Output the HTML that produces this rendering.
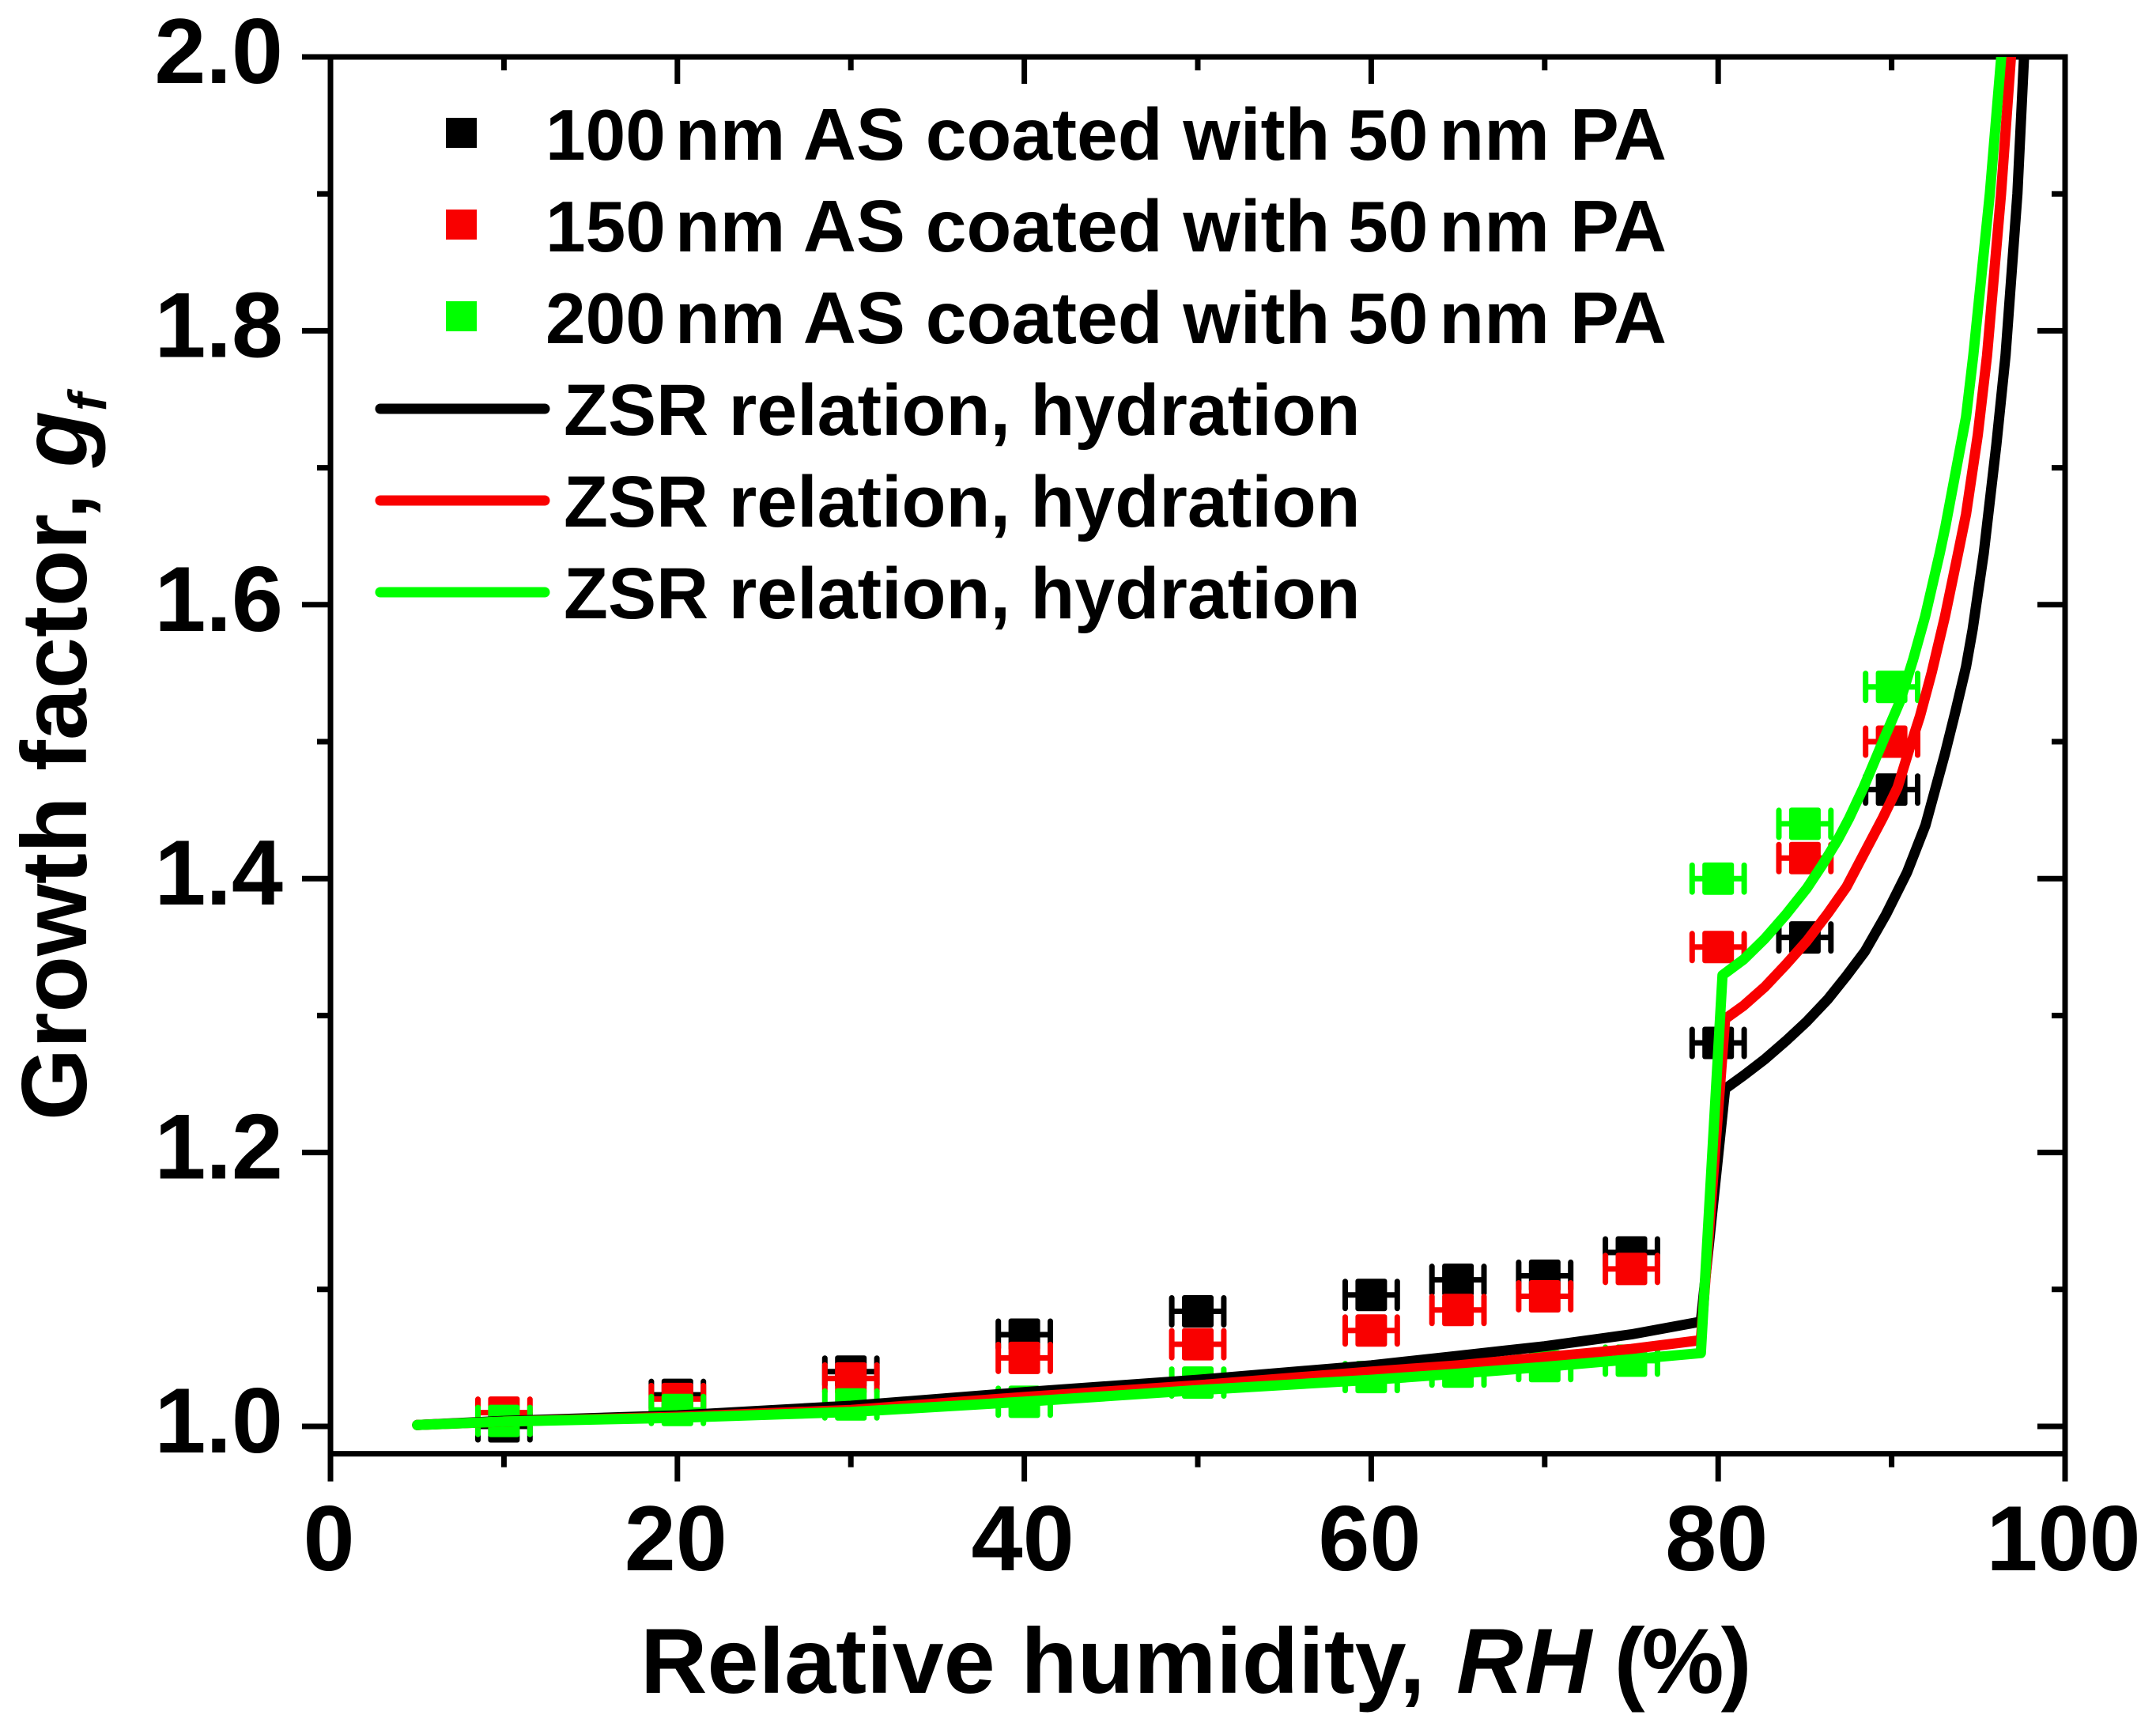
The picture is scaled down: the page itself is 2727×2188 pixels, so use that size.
<!DOCTYPE html>
<html lang="en">
<head>
<meta charset="utf-8">
<title>Growth factor vs relative humidity</title>
<style>
html,body{margin:0;padding:0;background:#fff;}
svg{display:block;}
text{font-family:"Liberation Sans",Arial,sans-serif;font-weight:bold;fill:#000;}
</style>
</head>
<body>
<svg id="chart" xmlns="http://www.w3.org/2000/svg" width="2727" height="2188" viewBox="0 0 2727 2188">
  <defs><clipPath id="plot-clip"><rect x="300" y="72" width="2400" height="1766"/></clipPath></defs>
  <rect x="0" y="0" width="2727" height="2188" fill="#fff"/>
  <g id="axes"></g>
  <g id="marks" clip-path="url(#plot-clip)"></g>
  <g id="curves" clip-path="url(#plot-clip)"></g>

  <text x="810" y="2141" font-size="117">Relative humidity, <tspan font-style="italic" dx="7" letter-spacing="2">RH</tspan> <tspan dx="-6" letter-spacing="-4">(%)</tspan></text>
  <text transform="translate(109,1417) rotate(-90)" font-size="117">Growth factor, <tspan font-style="italic">g</tspan><tspan font-style="italic" font-size="68" dy="25">f</tspan></text>

  <g>
    <rect x="564" y="149" width="39" height="38" fill="#000"/>
    <text x="690" y="202" font-size="93"><tspan font-size="91">100</tspan><tspan dx="12">nm AS coated with </tspan><tspan font-size="91" dx="-3">50</tspan><tspan dx="14">nm PA</tspan></text>
    <rect x="564" y="265" width="39" height="38" fill="#f90000"/>
    <text x="690" y="318" font-size="93"><tspan font-size="91">150</tspan><tspan dx="12">nm AS coated with </tspan><tspan font-size="91" dx="-3">50</tspan><tspan dx="14">nm PA</tspan></text>
    <rect x="564" y="381" width="39" height="38" fill="#00ff00"/>
    <text x="690" y="434" font-size="93"><tspan font-size="91">200</tspan><tspan dx="12">nm AS coated with </tspan><tspan font-size="91" dx="-3">50</tspan><tspan dx="14">nm PA</tspan></text>
    <line x1="481" y1="517" x2="689" y2="517" stroke="#000" stroke-width="13" stroke-linecap="round"/>
    <text x="713" y="550" font-size="91.6">ZSR relation, hydration</text>
    <line x1="481" y1="633" x2="689" y2="633" stroke="#f90000" stroke-width="13" stroke-linecap="round"/>
    <text x="713" y="666" font-size="91.6">ZSR relation, hydration</text>
    <line x1="481" y1="749" x2="689" y2="749" stroke="#00ff00" stroke-width="13" stroke-linecap="round"/>
    <text x="713" y="782" font-size="91.6">ZSR relation, hydration</text>
  </g>
</svg>
<script>
// ---- data ----
const xMajorTicks = [0, 20, 40, 60, 80, 100];
const xMinorTicks = [10, 30, 50, 70, 90];
const yMajorTicks = [1.0, 1.2, 1.4, 1.6, 1.8, 2.0];
const yMinorTicks = [1.1, 1.3, 1.5, 1.7, 1.9];
const yTickLabels = ["1.0", "1.2", "1.4", "1.6", "1.8", "2.0"];
const xTickLabels = ["0", "20", "40", "60", "80", "100"];

const rhPoints = [10, 20, 30, 40, 50, 60, 65, 70, 75, 80, 85, 90];
const gf100nm = [1.000, 1.023, 1.040, 1.067, 1.084, 1.096, 1.107, 1.110, 1.127, 1.280, 1.357, 1.465];
const gf150nm = [1.010, 1.020, 1.035, 1.050, 1.060, 1.070, 1.085, 1.095, 1.115, 1.350, 1.415, 1.500];
const gf200nm = [1.004, 1.012, 1.016, 1.018, 1.032, 1.036, 1.040, 1.044, 1.048, 1.400, 1.440, 1.540];
const rhError = 1.5;

const zsrBlackRh = [5, 10, 20, 30, 40, 50, 60, 65, 70, 75, 79, 80.4, 81.47, 82.68, 83.9, 85.12, 86.33, 87.4, 88.46, 89.67, 90.89, 91.95, 93.07, 93.68, 94.29, 94.67, 95.31, 96.04, 96.57, 97.25, 97.75];
const zsrBlackGf = [1.001, 1.004, 1.008, 1.015, 1.025, 1.034, 1.0446, 1.0515, 1.0585, 1.0672, 1.0765, 1.2465, 1.2563, 1.268, 1.2814, 1.2958, 1.312, 1.329, 1.3468, 1.3737, 1.4045, 1.439, 1.4911, 1.5219, 1.5546, 1.582, 1.6374, 1.717, 1.782, 1.900, 2.030];
const zsrRedRh = [5, 10, 20, 30, 40, 50, 60, 65, 70, 75, 79, 80.4, 81.47, 82.68, 83.9, 85.12, 86.33, 87.4, 88.46, 89.5, 90.34, 91.02, 91.63, 92.31, 93.07, 93.83, 94.29, 94.97, 95.5, 96.31, 97.05];
const zsrRedGf = [1.001, 1.0035, 1.007, 1.012, 1.0215, 1.030, 1.040, 1.0446, 1.0505, 1.0565, 1.063, 1.2975, 1.3073, 1.3208, 1.3372, 1.3545, 1.3747, 1.394, 1.4195, 1.4445, 1.4665, 1.4945, 1.5185, 1.5505, 1.5912, 1.6374, 1.666, 1.724, 1.782, 1.900, 2.030];
const zsrGreenRh = [5, 10, 20, 30, 40, 50, 60, 65, 70, 75, 79, 80.25, 81.47, 82.68, 83.9, 85.12, 86.03, 86.9, 87.55, 88.38, 89.58, 90.49, 91.25, 91.93, 92.77, 93.1, 94.29, 94.71, 95.66, 96.52];
const zsrGreenGf = [1.001, 1.0035, 1.0063, 1.0105, 1.018, 1.0265, 1.034, 1.0385, 1.0435, 1.049, 1.0535, 1.3295, 1.341, 1.356, 1.3737, 1.393, 1.4105, 1.4285, 1.444, 1.4665, 1.5027, 1.5296, 1.5604, 1.5912, 1.6374, 1.657, 1.737, 1.782, 1.900, 2.030];

// ---- scales ----
const NS = "http://www.w3.org/2000/svg";
function xPx(v) { return 418 + (v - 0) * 21.94; }
function yPx(v) { return 1804 - (v - 1) * 1732; }
const xMin = 0, xMax = 100, yMin = 0.98, yMax = 2.0;
const RED = "#f90000", GREEN = "#00ff00", BLACK = "#000";

function make(tag, parent) {
  const el = document.createElementNS(NS, tag);
  parent.appendChild(el);
  return el;
}
function seg(parent, x1, y1, x2, y2, w, c) {
  const l = make("line", parent);
  l.setAttribute("x1", x1);
  l.setAttribute("y1", y1);
  l.setAttribute("x2", x2);
  l.setAttribute("y2", y2);
  l.setAttribute("stroke", c);
  l.setAttribute("stroke-width", w);
  return l;
}

// ---- axes ----
const axes = document.getElementById("axes");
const T = 7;
const frame = make("rect", axes);


frame.setAttribute("x", xPx(xMin));
frame.setAttribute("y", yPx(yMax));
frame.setAttribute("width", xPx(xMax) - xPx(xMin));
frame.setAttribute("height", yPx(yMin) - yPx(yMax));
frame.setAttribute("fill", "none");
frame.setAttribute("stroke", "#000");
frame.setAttribute("stroke-width", T);

xMajorTicks.forEach(function (t, i) {
  const p = xPx(t);
  const bt = seg(axes, p, yPx(yMin), p, yPx(yMin) + 35, T, BLACK);
  
  
  const tt = seg(axes, p, yPx(yMax), p, yPx(yMax) + 34, T, BLACK);
  
  
  const lb = make("text", axes);
  
  
  lb.setAttribute("x", p - 2);
  lb.setAttribute("y", 1986);
  lb.setAttribute("font-size", 117);
  lb.setAttribute("text-anchor", "middle");
  lb.textContent = xTickLabels[i];
});
xMinorTicks.forEach(function (t) {
  const p = xPx(t);
  const bt = seg(axes, p, yPx(yMin), p, yPx(yMin) + 17, T, BLACK);
  
  
  const tt = seg(axes, p, yPx(yMax), p, yPx(yMax) + 17, T, BLACK);
  
  
});
yMajorTicks.forEach(function (t, i) {
  const p = yPx(t);
  const lt = seg(axes, xPx(xMin) - 36, p, xPx(xMin), p, T, BLACK);
  
  
  const rt = seg(axes, xPx(xMax) - 35, p, xPx(xMax), p, T, BLACK);
  
  
  const lb = make("text", axes);
  
  
  lb.setAttribute("x", 358);
  lb.setAttribute("y", p + 33);
  lb.setAttribute("font-size", 117);
  lb.setAttribute("text-anchor", "end");
  lb.textContent = yTickLabels[i];
});
yMinorTicks.forEach(function (t) {
  const p = yPx(t);
  const lt = seg(axes, xPx(xMin) - 17, p, xPx(xMin), p, T, BLACK);
  
  
  const rt = seg(axes, xPx(xMax) - 17, p, xPx(xMax), p, T, BLACK);
  
  
});

// ---- markers ----
const marks = document.getElementById("marks");
function drawSeries(values, color, name) {
  const grp = make("g", marks);
  
  
  values.forEach(function (v, i) {
    const cx = xPx(rhPoints[i]);
    const cy = yPx(v);
    const xl = xPx(rhPoints[i] - rhError);
    const xr = xPx(rhPoints[i] + rhError);
    const bar = seg(grp, xl, cy, xr, cy, 7, color);
    
    
    const capL = seg(grp, xl, cy - 17, xl, cy + 17, 7, color);
    capL.setAttribute("stroke-linecap", "round");
    
    
    const capR = seg(grp, xr, cy - 17, xr, cy + 17, 7, color);
    capR.setAttribute("stroke-linecap", "round");
    
    
    const sq = make("rect", grp);
    
    
    sq.setAttribute("x", cx - 20);
    sq.setAttribute("y", cy - 20.5);
    sq.setAttribute("width", 40);
    sq.setAttribute("height", 41);
    sq.setAttribute("rx", 3);
    sq.setAttribute("fill", color);
  });
}
drawSeries(gf100nm, BLACK, "100nm");
drawSeries(gf150nm, RED, "150nm");
drawSeries(gf200nm, GREEN, "200nm");

// ---- curves ----
const curves = document.getElementById("curves");
function drawCurve(rh, gf, color, name) {
  const pl = make("polyline", curves);
  
  
  pl.setAttribute("points", rh.map(function (r, i) { return xPx(r).toFixed(1) + "," + yPx(gf[i]).toFixed(1); }).join(" "));
  pl.setAttribute("fill", "none");
  pl.setAttribute("stroke", color);
  pl.setAttribute("stroke-width", 13);
  pl.setAttribute("stroke-linecap", "round");
  pl.setAttribute("stroke-linejoin", "round");
}
drawCurve(zsrBlackRh, zsrBlackGf, BLACK, "zsr-curve-black");
drawCurve(zsrRedRh, zsrRedGf, RED, "zsr-curve-red");
drawCurve(zsrGreenRh, zsrGreenGf, GREEN, "zsr-curve-green");
</script>
</body>
</html>
